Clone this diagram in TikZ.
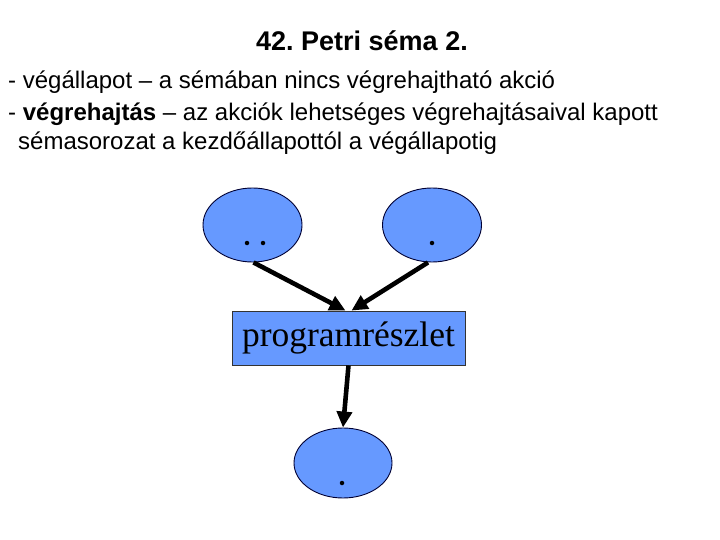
\documentclass[tikz,border=0pt]{standalone}
\usepackage{fontspec}
\setmainfont{Liberation Sans}
\newfontfamily\progfont{Liberation Serif}
\usetikzlibrary{shapes.geometric,arrows.meta}
\frenchspacing

\begin{document}
\begin{tikzpicture}[x=1pt, y=1pt,
    place/.style={ellipse, draw=blue!20!black, line width=0.9pt, fill=placeblue, minimum width=99pt, minimum height=74pt, inner sep=0pt},
    token/.style={circle, fill=black, minimum size=4.5pt, inner sep=0pt},
    action/.style={rectangle, draw=black!80, line width=0.9pt, fill=placeblue, minimum width=233pt, minimum height=54pt, inner sep=0pt, font=\progfont\fontsize{35.5}{38}\selectfont},
    line/.style={inner sep=0pt, anchor=base west, font=\fontsize{24}{28}\selectfont},
    arc/.style={line width=4.6pt, -{Triangle[length=16pt, width=15pt]}}]
    \definecolor{placeblue}{RGB}{102,153,255}
    \useasboundingbox (0,0) rectangle (720,-540);

    % szoveg
    \node[inner sep=0pt, anchor=base, font=\bfseries\fontsize{27}{30}\selectfont] (title) at (362,-51) {42. Petri séma 2.};
    \node[line] (l1) at (8,-89) {- végállapot – a sémában nincs végrehajtható akció};
    \node[line] (l2) at (8,-121) {- \textbf{végrehajtás} – az akciók lehetséges végrehajtásaival kapott};
    \node[line] (l3) at (18,-150) {sémasorozat a kezdőállapottól a végállapotig};

    % halo
    \node[place] (p1) at (252.5,-225) {};
    \node[place] (p2) at (432,-225) {};
    \node[action] (prog) at (348.5,-338) {programrészlet};
    \node[place, minimum width=98pt, minimum height=70pt] (p3) at (343,-463) {};

    \node[token] (t1) at (247,-243) {};
    \node[token] (t2) at (263,-243) {};
    \node[token] (t3) at (432,-243) {};
    \node[token] (t4) at (342,-483) {};

    \draw[arc] ([xshift=1pt]p1.south) -- ([xshift=-3pt]prog.north);
    \draw[arc] ([xshift=-4pt]p2.south) -- ([xshift=3pt]prog.north);
    \draw[arc] (prog.south) -- (p3.north);
\end{tikzpicture}
\end{document}
